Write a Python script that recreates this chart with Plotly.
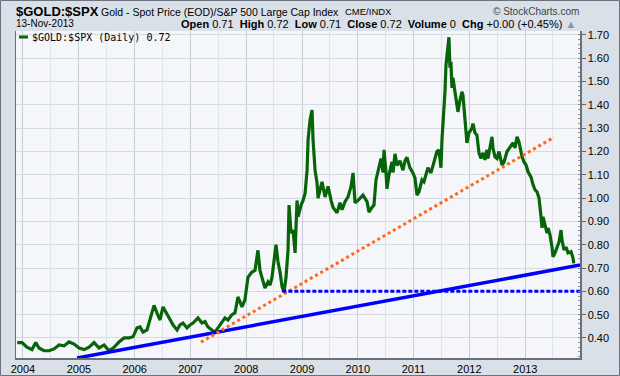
import numpy as np
import pandas as pd
import plotly.graph_objects as go

# ---------------- data ----------------
# time positions as decimal years, ratio values ($GOLD:$SPX)
ratio_years = [
    2003.898, 2003.982, 2004.072, 2004.161, 2004.228, 2004.287, 2004.376, 2004.466,
    2004.556, 2004.645, 2004.735, 2004.824, 2004.914, 2005.004, 2005.093, 2005.183,
    2005.272, 2005.362, 2005.452, 2005.541, 2005.631, 2005.720, 2005.810, 2005.900,
    2005.971, 2006.043, 2006.097, 2006.151, 2006.222, 2006.276, 2006.348, 2006.401,
    2006.455, 2006.509, 2006.581, 2006.634, 2006.688, 2006.760, 2006.814, 2006.867,
    2006.939, 2006.993, 2007.047, 2007.136, 2007.208, 2007.262, 2007.315, 2007.387,
    2007.441, 2007.495, 2007.566, 2007.620, 2007.674, 2007.746, 2007.799, 2007.853,
    2007.925, 2007.978, 2008.032, 2008.104, 2008.158, 2008.211, 2008.247, 2008.283,
    2008.337, 2008.391, 2008.427, 2008.462, 2008.498, 2008.534, 2008.570, 2008.606,
    2008.642, 2008.677, 2008.713, 2008.749, 2008.767, 2008.803, 2008.839, 2008.875,
    2008.910, 2008.928, 2008.982, 2009.018, 2009.054, 2009.090, 2009.108, 2009.143,
    2009.179, 2009.197, 2009.233, 2009.269, 2009.287, 2009.323, 2009.358, 2009.412,
    2009.466, 2009.520, 2009.556, 2009.627, 2009.681, 2009.717, 2009.771, 2009.824,
    2009.878, 2009.914, 2009.950, 2010.004, 2010.093, 2010.165, 2010.201, 2010.254,
    2010.290, 2010.326, 2010.362, 2010.416, 2010.452, 2010.470, 2010.505, 2010.523,
    2010.559, 2010.613, 2010.631, 2010.667, 2010.703, 2010.756, 2010.810, 2010.846,
    2010.882, 2010.935, 2010.989, 2011.025, 2011.061, 2011.097, 2011.151, 2011.186,
    2011.222, 2011.258, 2011.312, 2011.348, 2011.384, 2011.419, 2011.455, 2011.491,
    2011.509, 2011.527, 2011.563, 2011.581, 2011.599, 2011.634, 2011.652, 2011.670,
    2011.688, 2011.706, 2011.742, 2011.778, 2011.796, 2011.832, 2011.867, 2011.885,
    2011.921, 2011.939, 2011.957, 2011.993, 2012.047, 2012.065, 2012.100, 2012.136,
    2012.172, 2012.208, 2012.244, 2012.280, 2012.315, 2012.333, 2012.369, 2012.405,
    2012.423, 2012.459, 2012.495, 2012.530, 2012.584, 2012.620, 2012.674, 2012.728,
    2012.781, 2012.817, 2012.853, 2012.889, 2012.943, 2012.978, 2013.014, 2013.050,
    2013.104, 2013.140, 2013.176, 2013.211, 2013.247, 2013.283, 2013.301, 2013.319,
    2013.355, 2013.391, 2013.409, 2013.444, 2013.480, 2013.498, 2013.534, 2013.570,
    2013.606, 2013.642, 2013.659, 2013.695, 2013.731, 2013.767, 2013.821, 2013.857,
    2013.870,
]
ratio_values = [
    0.380, 0.380, 0.360, 0.350, 0.380, 0.357, 0.345, 0.345,
    0.353, 0.370, 0.366, 0.383, 0.374, 0.357, 0.350, 0.360,
    0.380, 0.357, 0.370, 0.345, 0.360, 0.383, 0.400, 0.400,
    0.405, 0.443, 0.447, 0.425, 0.434, 0.477, 0.540, 0.507,
    0.477, 0.533, 0.500, 0.477, 0.456, 0.434, 0.456, 0.464,
    0.443, 0.456, 0.464, 0.486, 0.464, 0.470, 0.447, 0.434,
    0.425, 0.443, 0.470, 0.486, 0.477, 0.500, 0.507, 0.576,
    0.533, 0.563, 0.660, 0.683, 0.690, 0.776, 0.690, 0.660,
    0.614, 0.640, 0.627, 0.660, 0.735, 0.800, 0.726, 0.683,
    0.620, 0.597, 0.660, 0.776, 0.970, 0.850, 0.863, 0.765,
    0.990, 0.920, 0.970, 0.990, 1.020, 1.120, 1.250, 1.335,
    1.378, 1.250, 1.120, 1.065, 1.000, 1.035, 1.070, 1.005,
    1.050, 0.990, 0.960, 0.937, 0.980, 0.950, 0.985, 1.005,
    1.050, 1.108, 0.980, 0.990, 1.013, 0.985, 0.940, 0.960,
    0.970, 1.078, 1.110, 1.170, 1.110, 1.207, 1.110, 1.040,
    1.100, 1.155, 1.110, 1.190, 1.140, 1.160, 1.120, 1.160,
    1.175, 1.130, 1.108, 1.087, 1.013, 1.027, 1.078, 1.070,
    1.100, 1.130, 1.108, 1.140, 1.170, 1.200, 1.207, 1.130,
    1.250, 1.314, 1.456, 1.570, 1.614, 1.690, 1.560, 1.585,
    1.473, 1.516, 1.456, 1.400, 1.370, 1.420, 1.456, 1.443,
    1.344, 1.314, 1.237, 1.280, 1.300, 1.320, 1.280, 1.270,
    1.194, 1.170, 1.194, 1.164, 1.207, 1.170, 1.220, 1.263,
    1.215, 1.177, 1.170, 1.200, 1.142, 1.155, 1.200, 1.220,
    1.237, 1.215, 1.263, 1.240, 1.177, 1.155, 1.142, 1.113,
    1.090, 1.057, 1.035, 1.027, 1.000, 0.920, 0.872, 0.920,
    0.885, 0.850, 0.872, 0.842, 0.790, 0.748, 0.765, 0.786,
    0.812, 0.863, 0.820, 0.778, 0.790, 0.765, 0.770, 0.743,
    0.720,
]

# hand-drawn trend lines (start/end points)
support_years = [2004.968, 2014.054]
support_values = [0.314, 0.716]
trend_years = [2007.190, 2013.516]
trend_values = [0.382, 1.261]
level_years = [2008.647, 2014.100]
level_values = [0.60, 0.60]

y_ticks = [0.40, 0.50, 0.60, 0.70, 0.80, 0.90, 1.00, 1.10, 1.20, 1.30, 1.40, 1.50, 1.60, 1.70]
y_tick_labels = ["0.40", "0.50", "0.60", "0.70", "0.80", "0.90", "1.00",
                 "1.10", "1.20", "1.30", "1.40", "1.50", "1.60", "1.70"]
x_tick_years = [2004, 2005, 2006, 2007, 2008, 2009, 2010, 2011, 2012, 2013]

x_range_years = [2003.875, 2013.982]
y_range = [0.314, 1.717]


def to_date(y):
    yr = int(np.floor(y))
    start = pd.Timestamp(year=yr, month=1, day=1)
    end = pd.Timestamp(year=yr + 1, month=1, day=1)
    return start + (end - start) * (y - yr)


def to_dates(seq):
    return [to_date(v) for v in seq]


# ---------------- layout geometry ----------------
W, H = 620, 376
L, R, T, B = 16, 40, 31, 18
PW, PH = W - L - R, H - T - B


def px(x):
    return (x - L) / PW


def py(y):
    return (H - B - y) / PH


FONT = "Liberation Sans, Arial, sans-serif"
GREEN = "#086408"

fig = go.Figure()

fig.add_trace(go.Scatter(
    x=to_dates(ratio_years), y=ratio_values, mode="lines",
    line=dict(color=GREEN, width=3.2), hoverinfo="skip", showlegend=False,
))
fig.add_trace(go.Scatter(
    x=to_dates(support_years), y=support_values, mode="lines",
    line=dict(color="#0000ff", width=3.5), showlegend=False,
))
fig.add_trace(go.Scatter(
    x=to_dates(trend_years), y=trend_values, mode="lines",
    line=dict(color="#ff6a13", width=3, dash="3px,3px"), showlegend=False,
))
fig.add_trace(go.Scatter(
    x=to_dates(level_years), y=level_values, mode="lines",
    line=dict(color="#0000ff", width=3, dash="4px,2px"), showlegend=False,
))

annotations = [
    dict(x=px(14), y=py(12), text="<b>$GOLD:$SPX</b>", xanchor="left", yanchor="middle",
         font=dict(family=FONT, size=13, color="#000")),
    dict(x=px(99), y=py(12), text="Gold - Spot Price (EOD)/S&P 500 Large Cap Index",
         xanchor="left", yanchor="middle", font=dict(family=FONT, size=10.5, color="#000")),
    dict(x=px(343), y=py(12), text="CME/INDX", xanchor="left", yanchor="middle",
         font=dict(family=FONT, size=9.5, color="#000")),
    dict(x=px(581), y=py(12), text="© StockCharts.com", xanchor="right", yanchor="middle",
         font=dict(family=FONT, size=10, color="#444")),
    dict(x=px(14), y=py(24), text="13-Nov-2013", xanchor="left", yanchor="middle",
         font=dict(family=FONT, size=10, color="#000")),
    dict(x=px(578), y=py(24),
         text="<b>Open</b> 0.71  <b>High</b> 0.72  <b>Low</b> 0.71  <b>Close</b> 0.72  "
              "<b>Volume</b> 0  <b>Chg</b> +0.00 (+0.45%) <span style='color:#8a94a6'>▲</span>",
         xanchor="right", yanchor="middle", font=dict(family=FONT, size=11, color="#000")),
    dict(x=px(30), y=py(37), text="$GOLD:$SPX (Daily) 0.72", xanchor="left", yanchor="middle",
         font=dict(family="DejaVu Sans Mono, monospace", size=10, color="#000")),
]
for a in annotations:
    a.update(xref="paper", yref="paper", showarrow=False)

shapes = [
    dict(type="line", xref="paper", yref="paper", x0=px(19), x1=px(28), y0=py(37), y1=py(37),
         line=dict(color=GREEN, width=3)),
    dict(type="rect", xref="paper", yref="paper", x0=px(0.5), x1=px(619.5), y0=py(0.5), y1=py(375.5),
         line=dict(color="#6b7280", width=1), layer="below"),
]

fig.update_layout(
    width=W, height=H,
    margin=dict(l=L, r=R, t=T, b=B, pad=0, autoexpand=False),
    paper_bgcolor="#dae0e8",
    plot_bgcolor="#f5f6fa",
    annotations=annotations,
    shapes=shapes,
    showlegend=False,
    hovermode=False,
    font=dict(family=FONT, size=11, color="#000"),
    xaxis=dict(
        type="date",
        automargin=False,
        range=[to_date(x_range_years[0]), to_date(x_range_years[1])],
        tickmode="array",
        tickvals=[pd.Timestamp(year=y, month=1, day=1) for y in x_tick_years],
        ticktext=[str(y) for y in x_tick_years],
        showgrid=True, gridcolor="#c9ccd5", gridwidth=1,
        minor=dict(dtick="M6", tick0="2004-01-01", showgrid=True, gridcolor="#dfe2e9", ticks=""),
        ticks="",
        showline=True, linecolor="#6b6f78", linewidth=1.5, mirror=False,
        tickfont=dict(family=FONT, size=11, color="#000"),
        zeroline=False, fixedrange=True,
    ),
    yaxis=dict(
        side="right",
        automargin=False,
        range=y_range,
        tickmode="array",
        tickvals=y_ticks,
        ticktext=y_tick_labels,
        showgrid=True, gridcolor="#d6d9e1", gridwidth=1,
        ticks="outside", ticklen=4, tickcolor="#666",
        minor=dict(tickmode="linear", tick0=0.30, dtick=0.02, ticks="inside", ticklen=2,
                   tickcolor="#8a8f99", showgrid=False),
        showline=True, linecolor="#6b6f78", linewidth=1.5, mirror=True,
        tickfont=dict(family=FONT, size=11, color="#000"),
        zeroline=False, fixedrange=True,
    ),
)

fig.write_html(
    "out.html",
    config={"displayModeBar": False, "staticPlot": True},
    post_script="document.body.style.margin='0';document.body.style.padding='0';",
)
